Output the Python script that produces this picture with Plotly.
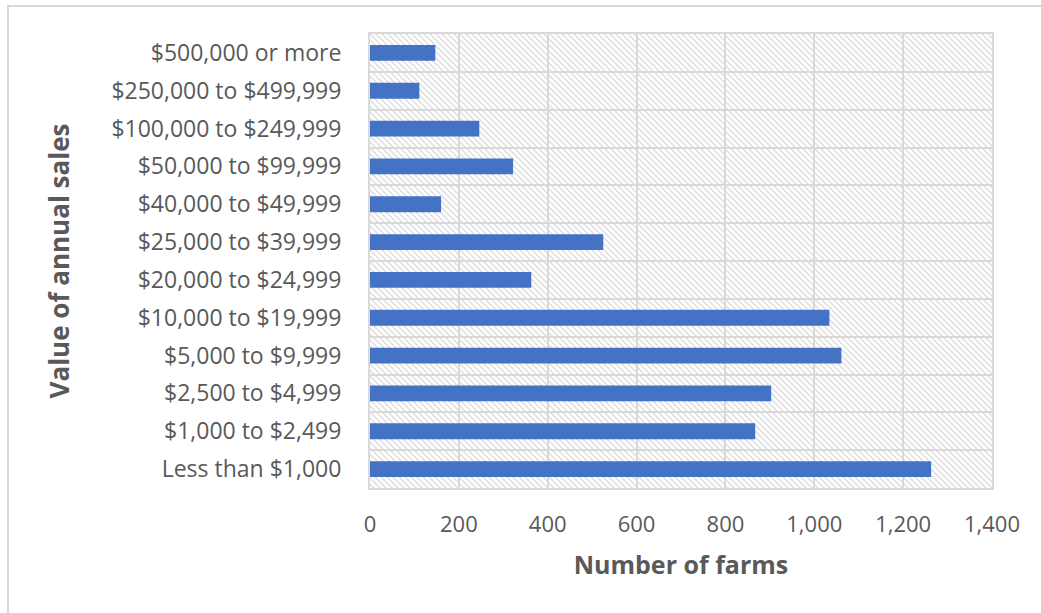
import base64
import plotly.graph_objects as go

# ---- data ----
categories = [
    "Less than $1,000",
    "$1,000 to $2,499",
    "$2,500 to $4,999",
    "$5,000 to $9,999",
    "$10,000 to $19,999",
    "$20,000 to $24,999",
    "$25,000 to $39,999",
    "$40,000 to $49,999",
    "$50,000 to $99,999",
    "$100,000 to $249,999",
    "$250,000 to $499,999",
    "$500,000 or more",
]
farms = [1263, 867, 903, 1061, 1034, 363, 525, 160, 322, 246, 111, 147]
x_tick_values = [0, 200, 400, 600, 800, 1000, 1200, 1400]

# ---- styling ----
W, H = 1041, 613
ML, MR, MT, MB = 370, 49, 34, 125
PW, PH = W - ML - MR, H - MT - MB
GRID = "#d9d9d9"
HATCH = "#e2e2e2"
TEXT = "#595959"
BAR = "#4472C4"
FONT = "Open Sans"

# hatched plot background (light diagonal lines)
P = 6
svg = (
    f'<svg xmlns="http://www.w3.org/2000/svg" width="{PW}" height="{PH}" '
    f'viewBox="0 0 {PW} {PH}" preserveAspectRatio="none">'
    f'<defs><pattern id="h" width="{P}" height="{P}" patternUnits="userSpaceOnUse">'
    f'<path d="M-1,-1 L{P+1},{P+1} M-1,{P-1} L1,{P+1} M{P-1},-1 L{P+1},1" '
    f'stroke="{HATCH}" stroke-width="1.7"/>'
    '</pattern></defs>'
    f'<rect width="{PW}" height="{PH}" fill="white"/>'
    f'<rect width="{PW}" height="{PH}" fill="url(#h)"/></svg>'
)
svg_uri = "data:image/svg+xml;base64," + base64.b64encode(svg.encode()).decode()

fig = go.Figure(
    go.Bar(
        x=farms,
        y=categories,
        orientation="h",
        marker=dict(color=BAR, line=dict(width=0)),
        hoverinfo="x+y",
    )
)

fig.update_layout(
    width=W,
    height=H,
    autosize=False,
    margin=dict(l=ML, r=MR, t=MT, b=MB, pad=0),
    paper_bgcolor="white",
    plot_bgcolor="white",
    bargap=0.58,
    showlegend=False,
    font=dict(family=FONT, color=TEXT, size=22),
    images=[
        dict(
            source=svg_uri,
            xref="paper",
            yref="paper",
            x=0,
            y=1,
            sizex=1,
            sizey=1,
            sizing="stretch",
            xanchor="left",
            yanchor="top",
            layer="below",
        )
    ],
    shapes=[
        dict(
            type="rect",
            xref="paper",
            yref="paper",
            x0=(8 - ML) / PW,
            x1=1.5,
            y0=-1.0,
            y1=1 + (MT - 6) / PH,
            line=dict(color=GRID, width=2),
            fillcolor="rgba(0,0,0,0)",
            layer="below",
        )
    ],
)

fig.update_xaxes(
    range=[0, 1400],
    tickvals=x_tick_values,
    tickformat=",",
    showgrid=True,
    gridcolor=GRID,
    gridwidth=2,
    showline=True,
    linecolor=GRID,
    linewidth=2,
    mirror=True,
    zeroline=False,
    ticks="",
    ticklabelstandoff=16,
    tickfont=dict(family=FONT, size=22, color=TEXT),
    title=dict(
        text="Number of farms",
        font=dict(family=FONT, size=25, color=TEXT, weight="bold"),
        standoff=19,
    ),
)

fig.update_yaxes(
    type="category",
    categoryorder="array",
    categoryarray=categories,
    range=[-0.5, len(categories) - 0.5],
    tickson="boundaries",
    showgrid=True,
    gridcolor=GRID,
    gridwidth=2,
    showline=True,
    linecolor=GRID,
    linewidth=2,
    mirror=True,
    zeroline=False,
    ticks="",
    ticklabelstandoff=22,
    tickfont=dict(family=FONT, size=23, color=TEXT),
    title=dict(
        text="Value of annual sales",
        font=dict(family=FONT, size=26, color=TEXT, weight="bold"),
        standoff=34,
    ),
)

fig.write_html("out.html")
